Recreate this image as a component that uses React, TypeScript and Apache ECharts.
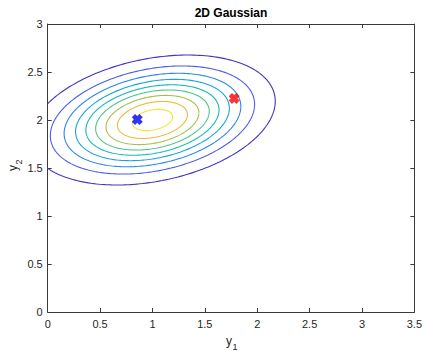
import React, { useEffect, useRef } from "react";
import * as echarts from "echarts";

// ---- data ----
const xTicks = [0, 0.5, 1, 1.5, 2, 2.5, 3, 3.5];
const yTicks = [0, 0.5, 1, 1.5, 2, 2.5, 3];
const gaussMean = [1, 2];
const gaussCov = [
  [0.3, 0.05],
  [0.05, 0.1],
];
// Mahalanobis radius of each contour line (outer -> inner)
const contourRadii = [2.14, 1.78, 1.54, 1.34, 1.16, 0.99, 0.81, 0.61, 0.35];
const contourColors = [
  "#4435BE",
  "#4A5EEA",
  "#2D86EE",
  "#18A4DC",
  "#14B9B8",
  "#4CC48C",
  "#A8BF4C",
  "#EDBA3C",
  "#F5E42A",
];
const bluePoint = [0.855, 2.005];
const redPoint = [1.78, 2.225];

const FONT = "'Liberation Sans', Arial, Helvetica, sans-serif";
const AXIS = "#3a3a3a";
const TXT = "#262626";
const XMARK =
  "path://M0,3 L3,0 L5,2 L7,0 L10,3 L8,5 L10,7 L7,10 L5,8 L3,10 L0,7 L2,5 Z";

function ellipsePoints(r: number): number[][] {
  const l11 = Math.sqrt(gaussCov[0][0]);
  const l21 = gaussCov[1][0] / l11;
  const l22 = Math.sqrt(gaussCov[1][1] - l21 * l21);
  const pts: number[][] = [];
  const n = 240;
  for (let i = 0; i <= n; i++) {
    const t = (i / n) * Math.PI * 2;
    const c = Math.cos(t);
    const s = Math.sin(t);
    pts.push([gaussMean[0] + r * l11 * c, gaussMean[1] + r * (l21 * c + l22 * s)]);
  }
  return pts;
}

export default function App() {
  const ref = useRef<HTMLDivElement>(null);
  useEffect(() => {
    if (!ref.current) return;
    const chart = echarts.init(ref.current, undefined, { renderer: "svg" });
    const tickCommon = { inside: true, length: 4, lineStyle: { color: AXIS, width: 1 } };
    const lineCommon = { show: true, onZero: false, lineStyle: { color: AXIS, width: 1 } };
    const xBase = {
      type: "value",
      min: xTicks[0],
      max: xTicks[xTicks.length - 1],
      interval: 0.5,
      splitLine: { show: false },
      axisLine: lineCommon,
      axisTick: tickCommon,
    };
    const yBase = {
      type: "value",
      min: yTicks[0],
      max: yTicks[yTicks.length - 1],
      interval: 0.5,
      splitLine: { show: false },
      axisLine: lineCommon,
      axisTick: tickCommon,
    };
    const series: any[] = contourRadii.map((r, i) => ({
      type: "line",
      data: ellipsePoints(r),
      symbol: "none",
      smooth: false,
      clip: true,
      silent: true,
      lineStyle: { color: contourColors[i], width: 1.1 },
      z: 2,
    }));
    series.push({
      type: "scatter",
      data: [bluePoint],
      symbol: XMARK,
      symbolSize: 11,
      itemStyle: { color: "#0000FF" },
      silent: true,
      z: 5,
    });
    series.push({
      type: "scatter",
      data: [redPoint],
      symbol: XMARK,
      symbolSize: 11,
      itemStyle: { color: "#FF0000" },
      silent: true,
      z: 5,
    });
    chart.setOption({
      animation: false,
      backgroundColor: "#ffffff",
      title: {
        text: "2D Gaussian",
        left: 231,
        top: 7,
        padding: 0,
        textAlign: "center",
        textStyle: { fontSize: 12, fontWeight: "bold", color: "#000", fontFamily: FONT },
      },
      grid: { left: 47.7, right: 8, top: 24, bottom: 40, containLabel: false },
      xAxis: [
        {
          ...xBase,
          position: "bottom",
          axisLabel: { show: true, fontSize: 11, color: TXT, fontFamily: FONT, margin: 6 },
        },
        { ...xBase, position: "top", axisLabel: { show: false } },
      ],
      yAxis: [
        {
          ...yBase,
          position: "left",
          axisLabel: { show: true, fontSize: 11, color: TXT, fontFamily: FONT, margin: 5 },
        },
        { ...yBase, position: "right", axisLabel: { show: false } },
      ],
      graphic: [
        {
          type: "group",
          x: 229,
          y: 341,
          children: [
            {
              type: "text",
              x: 0,
              y: 0,
              style: { text: "y", fontSize: 12, fill: TXT, fontFamily: FONT, align: "center", verticalAlign: "middle" },
            },
            {
              type: "text",
              x: 3.5,
              y: 6,
              style: { text: "1", fontSize: 9, fill: TXT, fontFamily: FONT, align: "left", verticalAlign: "middle" },
            },
          ],
        },
        {
          type: "group",
          x: 13,
          y: 168,
          rotation: Math.PI / 2,
          children: [
            {
              type: "text",
              x: 0,
              y: 0,
              style: { text: "y", fontSize: 12, fill: TXT, fontFamily: FONT, align: "center", verticalAlign: "middle" },
            },
            {
              type: "text",
              x: 3.5,
              y: 6,
              style: { text: "2", fontSize: 9, fill: TXT, fontFamily: FONT, align: "left", verticalAlign: "middle" },
            },
          ],
        },
      ],
      series,
    });
    return () => chart.dispose();
  }, []);
  return (
    <div
      ref={ref}
      style={{ position: "fixed", left: 0, top: 0, width: 425, height: 352, background: "#fff" }}
    />
  );
}
